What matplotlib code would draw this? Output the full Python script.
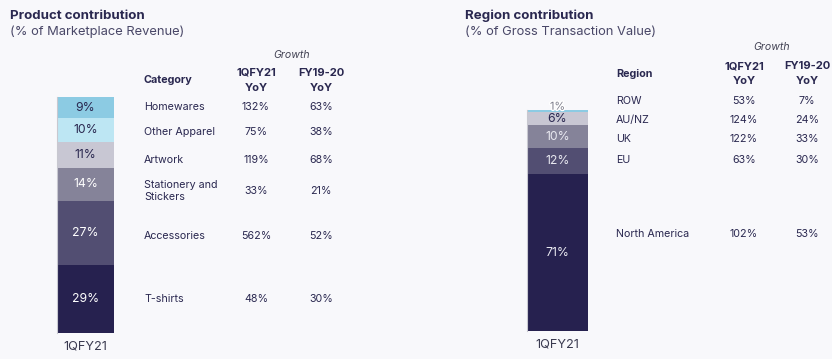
import matplotlib.pyplot as plt
import matplotlib.patheffects as pe

plt.rcParams['font.family'] = ['Inter', 'DejaVu Sans']

# Product contribution data (bottom to top)
prod_cats = ['T-shirts', 'Accessories', 'Stationery and\nStickers', 'Artwork', 'Other Apparel', 'Homewares']
prod_share = [29, 27, 14, 11, 10, 9]
prod_q = ['48%', '562%', '33%', '119%', '75%', '132%']
prod_fy = ['30%', '52%', '21%', '68%', '38%', '63%']
prod_colors = ['#26214f', '#524e72', '#858399', '#c8c7d3', '#bde6f3', '#8ccbe3']
prod_txt = ['white', 'white', 'white', '#2a2850', '#2a2850', '#2a2850']

# Region contribution data (bottom to top)
reg_cats = ['North America', 'EU', 'UK', 'AU/NZ', 'ROW']
reg_share = [71, 12, 10, 6, 1]
reg_q = ['102%', '63%', '122%', '124%', '53%']
reg_fy = ['53%', '30%', '33%', '24%', '7%']
reg_colors = ['#26214f', '#524e72', '#858399', '#c8c7d3', '#8ccbe3']
reg_txt = ['#e8e8f0', '#e8e8f0', '#e8e8f0', '#2a2850', '#7a7a88']

bg = '#f8f8fb'
ink = '#2a2850'
W, H = 832, 359

fig = plt.figure(figsize=(W / 100, H / 100), dpi=100, facecolor=bg)


def px(x, y):
    return x / W, 1 - y / H


def txt(x, y, s, **kw):
    kw.setdefault('color', ink)
    kw.setdefault('fontsize', 7.7)
    kw.setdefault('va', 'center')
    fig.text(*px(x, y), s, **kw)


def stacked(left, top, width, bottom_px, shares, colors, tcols, small_top=False):
    ax = fig.add_axes([left / W, 1 - bottom_px / H, width / W, (bottom_px - top) / H])
    ax.set_facecolor(bg)
    b = 0
    for i, (v, c, tc) in enumerate(zip(shares, colors, tcols)):
        ax.bar(0, v, bottom=b, width=1, color=c, edgecolor='none')
        if small_top and i == len(shares) - 1:
            t = ax.text(0, b + v + 1.5, f'{v}%', ha='center', va='center', fontsize=7.8,
                        color=tc, clip_on=False)
            t.set_path_effects([pe.withStroke(linewidth=2, foreground='white')])
        else:
            ax.text(0, b + v / 2, f'{v}%', ha='center', va='center', fontsize=8.8, color=tc)
        b += v
    # thin light edge on the left side of the bar
    ax.plot([-0.5, -0.5], [0, b], color='#c8c8d0', lw=0.8, clip_on=False)
    ax.set_xlim(-0.5, 0.5)
    ax.set_ylim(0, sum(shares))
    ax.axis('off')
    return ax


# Left panel
txt(10, 16, 'Product contribution', fontsize=9.6, fontweight='bold')
txt(10, 32, '(% of Marketplace Revenue)', fontsize=9.3, color='#4a4868')
stacked(57, 97, 57, 333, prod_share, prod_colors, prod_txt)
txt(85, 346, '1QFY21', fontsize=9.2, ha='center', color='#3a3a50')
txt(292, 55, 'Growth', fontsize=7.6, style='italic', ha='center', color='#444455')
txt(256, 73, '1QFY21', fontsize=8, fontweight='bold', ha='center')
txt(256, 88, 'YoY', fontsize=8, fontweight='bold', ha='center')
txt(321, 73, 'FY19-20', fontsize=8, fontweight='bold', ha='center')
txt(321, 88, 'YoY', fontsize=8, fontweight='bold', ha='center')
txt(144, 80, 'Category', fontsize=7.8, fontweight='bold')
prod_y = [299, 236, 191, 160, 132, 107]
for c, q, f, y in zip(prod_cats, prod_q, prod_fy, prod_y):
    txt(144, y, c, linespacing=1.3)
    txt(256, y, q, ha='center')
    txt(321, y, f, ha='center')

# Right panel
txt(465, 16, 'Region contribution', fontsize=9.6, fontweight='bold')
txt(465, 32, '(% of Gross Transaction Value)', fontsize=9.3, color='#4a4868')
stacked(527, 110, 61, 331, reg_share, reg_colors, reg_txt, small_top=True)
txt(557, 345, '1QFY21', fontsize=9.2, ha='center', color='#3a3a50')
txt(772, 47, 'Growth', fontsize=7.6, style='italic', ha='center', color='#444455')
txt(744, 66, '1QFY21', fontsize=8, fontweight='bold', ha='center')
txt(744, 81, 'YoY', fontsize=8, fontweight='bold', ha='center')
txt(807, 66, 'FY19-20', fontsize=8, fontweight='bold', ha='center')
txt(807, 81, 'YoY', fontsize=8, fontweight='bold', ha='center')
txt(616, 74, 'Region', fontsize=7.8, fontweight='bold')
reg_y = [234, 160, 139, 120, 101]
for c, q, f, y in zip(reg_cats, reg_q, reg_fy, reg_y):
    txt(616, y, c)
    txt(744, y, q, ha='center')
    txt(807, y, f, ha='center')

fig.savefig('out.png', dpi=100, facecolor=bg)
